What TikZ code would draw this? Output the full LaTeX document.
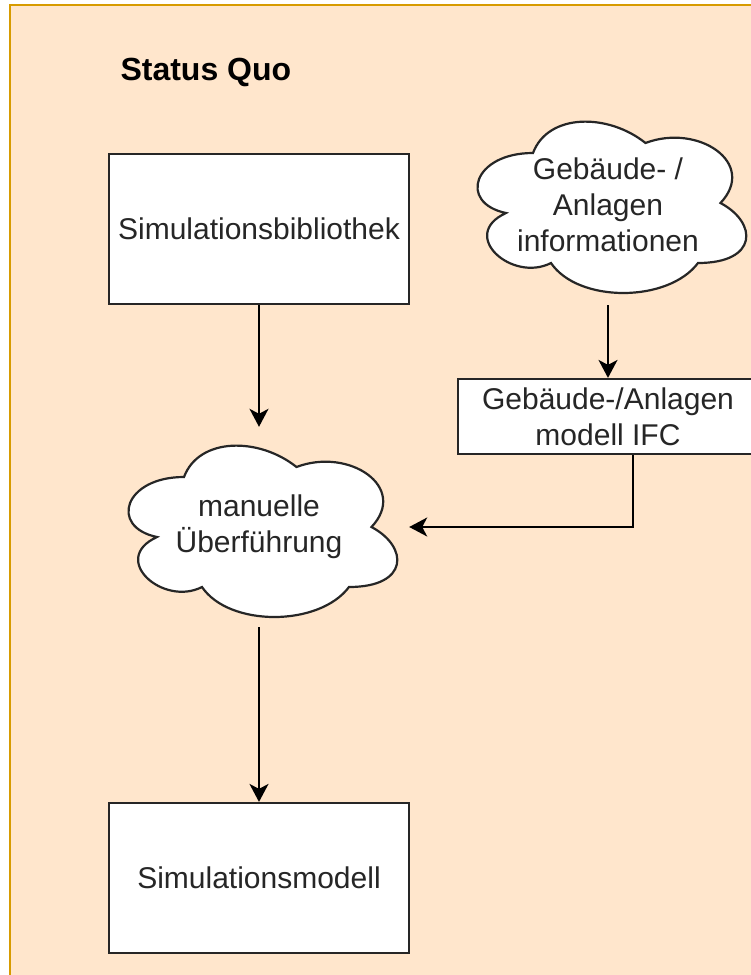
\documentclass[tikz,border=0pt]{standalone}
\usepackage{fontspec}
\setmainfont{Liberation Sans}
\usetikzlibrary{arrows.meta,calc}
\definecolor{bgfill}{HTML}{FFE6CC}
\definecolor{bgline}{HTML}{D79B00}
\tikzset{
  boxst/.style={draw=black!85, line width=2.2pt, fill=white, inner sep=0pt,
    align=center, text=black!85, font=\fontsize{30}{36}\selectfont},
  cloudline/.style={draw=black!85, line width=2.2pt, fill=white},
  cloudbox/.style={inner sep=0pt, minimum width=300pt, minimum height=200pt,
    align=center, text=black!85, font=\fontsize{30}{36}\selectfont},
  arr/.style={line width=2pt, draw=black,
    -{Stealth[length=18pt,width=19pt,inset=5pt]}},
}
\newcommand\mycloud[2]{%
  \begin{scope}[shift={(#1,#2)}, x=300pt, y=-200pt]
    \path[cloudline] (0.25,0.25)
      .. controls (0.05,0.25) and (0,0.5) .. (0.16,0.55)
      .. controls (0,0.66) and (0.18,0.9) .. (0.31,0.8)
      .. controls (0.4,1) and (0.7,1) .. (0.8,0.8)
      .. controls (1,0.8) and (1,0.6) .. (0.875,0.5)
      .. controls (1,0.3) and (0.8,0.1) .. (0.625,0.2)
      .. controls (0.5,0.05) and (0.3,0.05) .. (0.25,0.25) -- cycle;
  \end{scope}}
\begin{document}
\begin{tikzpicture}[x=1pt, y=-1pt]
  \useasboundingbox (0,0) rectangle (751,975);
  \clip (0,0) rectangle (751,975);
  \path[fill=bgfill, draw=bgline, line width=2pt] (10,5) rectangle (820,1030);

  \node[anchor=base west, text=black, font=\fontsize{32}{38}\selectfont\bfseries] (title) at (117,80) {Status Quo};

  \node[boxst, minimum width=300pt, minimum height=150pt] (lib) at (259,229) {Simulationsbibliothek};
  \node[boxst, minimum width=300pt, minimum height=150pt] (model) at (259,878) {Simulationsmodell};
  \node[boxst, minimum width=300pt, minimum height=75pt] (ifc) at (608,416.5) {Gebäude-/Anlagen\\modell IFC};

  \mycloud{109}{427}
  \node[cloudbox] (man) at (259,527) {manuelle\\Überführung};
  \mycloud{458}{103}
  \node[cloudbox] (geb) at (608,205) {Gebäude- /\\Anlagen\\informationen};

  \draw[arr] (lib) -- (man);
  \draw[arr] (man) -- (model);
  \draw[arr] (geb) -- (ifc);
  \draw[arr] ($(ifc.south)+(25,0)$) |- (man.east);
\end{tikzpicture}
\end{document}
